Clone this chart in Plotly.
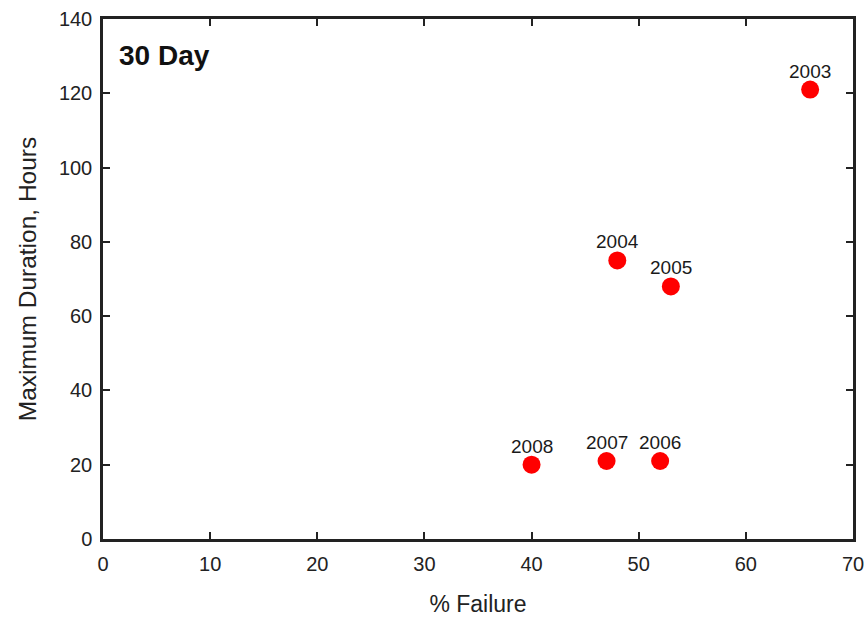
import plotly.graph_objects as go

years = ["2003", "2004", "2005", "2006", "2007", "2008"]
failure_pct = [66, 48, 53, 52, 47, 40]
max_duration = [121, 75, 68, 21, 21, 20]

font_family = "Liberation Sans, Arial, sans-serif"

fig = go.Figure()
fig.add_trace(go.Scatter(
    x=failure_pct, y=max_duration, mode="markers",
    marker=dict(color="#ff0000", size=18, line=dict(width=0)),
    showlegend=False, cliponaxis=False,
))

for yr, xv, yv in zip(years, failure_pct, max_duration):
    fig.add_annotation(x=xv, y=yv, text=yr, showarrow=False,
                       xanchor="center", yanchor="bottom", yshift=6,
                       font=dict(family=font_family, size=19, color="#1a1a1a"))

axis_common = dict(
    showgrid=False, zeroline=False, showline=True, linecolor="#222222", linewidth=2.5,
    mirror="ticks", ticks="inside", ticklen=7, tickwidth=1.5, tickcolor="#222222",
    tickfont=dict(family=font_family, size=20, color="#222222"),
    automargin=False,
)

fig.update_xaxes(range=[0, 70], dtick=10, tick0=0, ticklabelstandoff=5,
                 title=dict(text="% Failure", font=dict(family=font_family, size=23, color="#222222"), standoff=30),
                 **axis_common)
fig.update_yaxes(range=[0, 140], dtick=20, tick0=0, ticklabelstandoff=4,
                 title=dict(text="Maximum Duration, Hours", font=dict(family=font_family, size=24.5, color="#222222"), standoff=16),
                 **axis_common)

fig.add_annotation(text="<b>30 Day</b>", xref="paper", yref="paper", x=0.019, y=0.93,
                   xanchor="left", yanchor="middle", showarrow=False,
                   font=dict(family=font_family, size=28, color="#111111"))

fig.update_layout(
    width=867, height=617,
    margin=dict(l=103, r=14, t=19, b=78, autoexpand=False),
    paper_bgcolor="white", plot_bgcolor="white",
)

fig.write_html("out.html")
